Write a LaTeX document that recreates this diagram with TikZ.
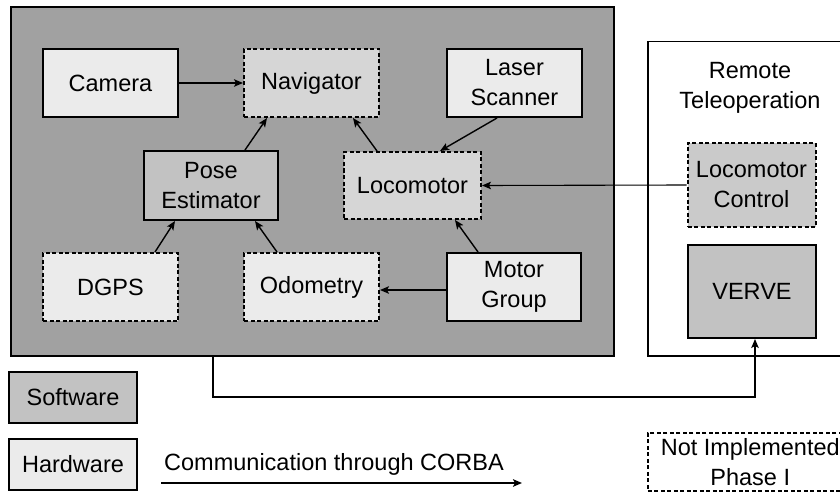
\documentclass[tikz,border=0pt]{standalone}
\usepackage{fontspec}
\setmainfont{Liberation Sans}
\usetikzlibrary{arrows.meta}

\definecolor{robotbg}{gray}{0.63}
\definecolor{swfill}{gray}{0.76}
\definecolor{hwfill}{gray}{0.92}
\definecolor{nifill}{gray}{0.84}

\tikzset{
  box/.style={draw=black, line width=2pt, minimum width=135pt, minimum height=68pt,
    align=center, inner sep=0pt, font=\fontsize{23.5}{30}\selectfont},
  software/.style={box, fill=swfill},
  hardware/.style={box, fill=hwfill},
  planned/.style={dash pattern=on 4pt off 2.5pt},
  link/.style={line width=1.4pt, -{Stealth[length=9pt,width=7.5pt,inset=2pt]}},
}

\begin{document}
\begin{tikzpicture}[x=1pt,y=-1pt]
\useasboundingbox (0,0) rectangle (840,492);

% robot on-board system
\node[draw, line width=2pt, fill=robotbg, minimum width=603pt, minimum height=349pt,
  anchor=north west, inner sep=0pt] (robot) at (10,6) {};

% remote station
\node[draw, line width=1.5pt, fill=white, minimum width=210pt, minimum height=314pt,
  anchor=north west, inner sep=0pt] (remote) at (647,41) {};
\node[align=center, inner sep=0pt, font=\fontsize{23.5}{30}\selectfont] (remotetitle)
  at (750,88) {Remote\\Teleoperation};

% components
\node[hardware] (camera) at (110.5,83) {Camera};
\node[box, fill=nifill, planned] (nav) at (311.5,83) {Navigator};
\node[hardware] (laser) at (514.5,83) {Laser\\Scanner};
\node[software, minimum width=134pt, minimum height=69pt] (pose) at (211,185.5) {Pose\\Estimator};
\node[box, fill=nifill, planned, minimum width=137pt, minimum height=67pt] (loco) at (412.5,185.5) {Locomotor};
\node[hardware, planned] (dgps) at (110.5,287) {DGPS};
\node[hardware, planned] (odo) at (311.5,287) {Odometry};
\node[hardware, minimum width=134pt] (motor) at (514,287) {Motor\\Group};
\node[box, fill=swfill!80!hwfill, planned, minimum width=128pt, minimum height=84pt] (lococtl)
  at (751.5,185) {Locomotor\\Control};
\node[software, minimum width=128pt, minimum height=93pt] (verve) at (752,291.5) {VERVE};

% legend
\node[software, minimum width=128pt, minimum height=51pt] (sw) at (73,397.5) {Software};
\node[hardware, minimum width=128pt, minimum height=51pt] (hw) at (73,464.5) {Hardware};
\node[anchor=base, inner sep=0pt, font=\fontsize{23.5}{30}\selectfont] (corba)
  at (334,470) {Communication through CORBA};
\coordinate (corbaA) at (161,483);
\coordinate (corbaB) at (522,483);
\draw[link, line width=1.8pt] (corbaA) -- (corbaB);
\node[box, fill=white, planned, line width=1.5pt, minimum width=205pt, minimum height=58pt,
  anchor=north west] (notimpl) at (647,432) {Not Implemented\\Phase I};

% data flow
\draw[link] (camera) -- (nav);
\draw[link] ([xshift=34pt]pose.north) -- ([xshift=-44.5pt]nav.south);
\draw[link] ([xshift=-35.5pt]loco.north) -- ([xshift=41.5pt]nav.south);
\draw[link] ([xshift=-17.5pt]laser.south) -- ([xshift=27.5pt]loco.north);
\draw[link] ([xshift=44.5pt]dgps.north) -- ([xshift=-36pt]pose.south);
\draw[link] ([xshift=-34.5pt]odo.north) -- ([xshift=44pt]pose.south);
\draw[link] ([xshift=-36pt]motor.north) -- ([xshift=42.5pt]loco.south);
\draw[link] ([yshift=-3pt]motor.west) -- ([yshift=-3pt]odo.east);
\draw[link, line width=1.1pt] (lococtl.west) -- (loco.east);
\coordinate (bend) at (755,397);
\draw[link, line width=1.1pt] ([xshift=-99.5pt]robot.south) |- (bend) -- ([xshift=3pt]verve.south);
\end{tikzpicture}
\end{document}
